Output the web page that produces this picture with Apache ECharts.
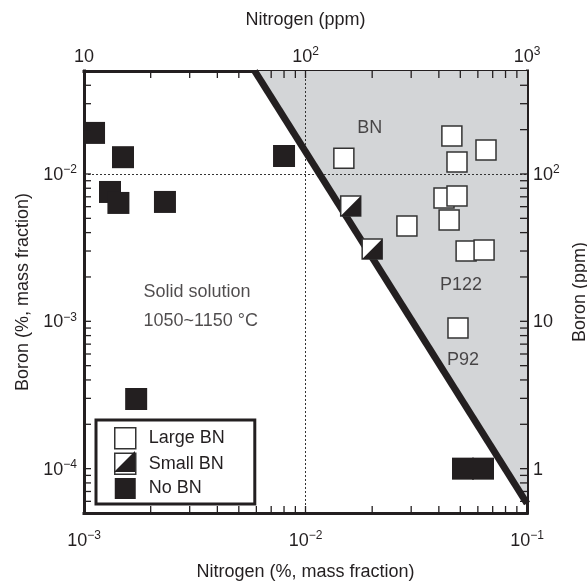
<!DOCTYPE html>
<html><head><meta charset="utf-8">
<script src="https://cdn.jsdelivr.net/npm/echarts@6/dist/echarts.min.js"></script>
<style>html,body{margin:0;padding:0;background:#fff;overflow:hidden}#c{width:587px;height:581px}</style>
</head><body><div id="c"></div>
<script>
// ---- data ----
const noBN_N   = [0.00111, 0.0015, 0.00131, 0.00143, 0.00232, 0.0080, 0.00172, 0.0514, 0.0633];
const noBN_B   = [0.0190, 0.0130, 0.00755, 0.00636, 0.00646, 0.01325, 0.000297, 0.0001, 0.0001];
const largeBN_N = [0.0149, 0.0458, 0.0653, 0.0483, 0.0422, 0.0483, 0.0445, 0.0287, 0.0531, 0.0640, 0.0488];
const largeBN_B = [0.0128, 0.0181, 0.01455, 0.01205, 0.00687, 0.00708, 0.00487, 0.00443, 0.00300, 0.00305, 0.00090];
const smallBN_N = [0.0160, 0.0200];
const smallBN_B = [0.00607, 0.00310];
const boundaryN = [0.0059, 0.1];
const boundaryB = [0.05, 0.000058];
const gridX = [0.01];
const gridY = [0.01, 0.001, 0.0001];
const noteNames = ['BN', 'P122', 'P92', 'Solid solution', '1050~1150 \u00B0C'];
const noteN = [0.0195, 0.0503, 0.0514, 0.00177, 0.00177];
const noteB = [0.0205, 0.00176, 0.000546, 0.00158, 0.0010];
const xRange = [0.001, 0.1];       // Nitrogen, % mass fraction
const yRange = [0.00005, 0.05];    // Boron, % mass fraction
const xRangePpm = [10, 1000];
const yRangePpm = [0.5, 500];
const bottomLabels = [0.001, 0.01, 0.1];
const topLabels = [10, 100, 1000];
const leftLabels = [0.0001, 0.001, 0.01];
const rightLabels = [1, 10, 100];

// ---- helpers ----
const INK = '#231f20';
const FONT = 'Liberation Sans, Arial, Helvetica, sans-serif';
function logTicks(lo, hi) {
  const out = [];
  for (let e = Math.floor(Math.log10(lo)); e <= Math.ceil(Math.log10(hi)); e++) {
    for (let m = 1; m <= 9; m++) {
      const v = +(m * Math.pow(10, e)).toPrecision(6);
      if (v > lo * 1.0001 && v < hi / 1.0001) out.push(v);
    }
  }
  return out;
}
const xTickVals = logTicks(xRange[0], xRange[1]);
const yTickVals = logTicks(yRange[0], yRange[1]);
function nudge(vals, lo, hi) { return vals.map(v => Math.min(Math.max(v, lo * 1.000001), hi / 1.000001)); }
function fmt(v) {
  const e = Math.round(Math.log10(v));
  if (e === 0) return '{b|1}';
  if (e === 1) return '{b|10}';
  return '{b|10}{s|' + (e < 0 ? '\u2212' + (-e) : e) + '}';
}
const rich = {
  b: { fontSize: 18, lineHeight: 20, fontFamily: FONT, color: INK, verticalAlign: 'bottom' },
  s: { fontSize: 12, lineHeight: 12, fontFamily: FONT, color: INK, verticalAlign: 'top' }
};
function axis(pos, range, labels, name, nameGap, margin, isY) {
  const a = {
    type: 'log', logBase: 10, position: pos, min: range[0], max: range[1],
    name: name, nameLocation: 'middle', nameGap: nameGap,
    nameTextStyle: { fontSize: 18, color: INK, fontFamily: FONT },
    axisLine: { show: true, onZero: false, lineStyle: { color: INK, width: 3, cap: 'square' } },
    axisTick: { show: false },
    axisLabel: { show: true, customValues: nudge(labels, range[0], range[1]), formatter: fmt, rich: rich, margin: margin },
    splitLine: { show: false }, minorTick: { show: false }
  };
  if (isY) a.nameRotate = 90;
  return a;
}
function pairs(xs, ys) { return xs.map((x, i) => [x, ys[i]]); }
const TICK = 7;
function noteItem(n, i) {
  const item = { name: n, value: [noteN[i], noteB[i]] };
  if (i >= 3) {
    item.label = { position: 'right', distance: 0, padding: [1, 23, 1, 4] };
    if (i === 4) item.label.backgroundColor = '#fff';
  }
  return item;
}

const chart = echarts.init(document.getElementById('c'), null, { renderer: 'canvas' });
chart.setOption({
  animation: false,
  backgroundColor: '#fff',
  grid: { left: 84, right: 60, top: 71, bottom: 68, outerBoundsMode: 'none', containLabel: false },
  xAxis: [
    axis('bottom', xRange, bottomLabels, 'Nitrogen (%, mass fraction)', 50, 17, false),
    axis('top', xRangePpm, topLabels, 'Nitrogen (ppm)', 42, 5, false)
  ],
  yAxis: [
    axis('left', yRange, leftLabels, 'Boron (%, mass fraction)', 52, 7, true),
    axis('right', yRangePpm, rightLabels, 'Boron (ppm)', 43, 6, true)
  ],
  legend: [
    {
      orient: 'vertical', left: 96, top: 420, itemWidth: 21, itemHeight: 21, itemGap: 3,
      padding: [7, 30, 5, 18], backgroundColor: '#fff', borderColor: INK, borderWidth: 3,
      selectedMode: false, z: 10,
      textStyle: { fontSize: 18, color: INK, fontFamily: FONT, padding: [0, 0, 0, 8] },
      data: [
        { name: 'Large BN', icon: 'rect', itemStyle: { color: '#fff', borderColor: '#333', borderWidth: 1.5, opacity: 1 } },
        { name: 'Small BN', icon: 'rect', itemStyle: { color: '#fff', borderColor: '#333', borderWidth: 1.5, opacity: 1 } },
        { name: 'No BN', icon: 'rect', itemStyle: { color: INK, borderWidth: 0, opacity: 1 } }
      ]
    },
    {
      orient: 'vertical', left: 114, top: 451, itemWidth: 21, itemHeight: 21, padding: 0,
      selectedMode: false, z: 11, formatter: function () { return ''; },
      data: [{ name: 'Small BN fill', icon: 'path://M1,0L1,1L0,1Z', itemStyle: { color: INK, borderWidth: 0, opacity: 1 } }]
    }
  ],
  series: [
    {
      name: 'region', type: 'line', xAxisIndex: 0, yAxisIndex: 0, z: 1, silent: true,
      data: pairs(boundaryN, boundaryB), symbol: 'none',
      lineStyle: { width: 0 }, areaStyle: { color: '#d3d5d7', opacity: 1, origin: 'end' },
      markLine: {
        z: 2, silent: true, symbol: 'none', label: { show: false },
        lineStyle: { type: [2, 2], color: '#333', width: 1 },
        data: gridX.map(v => ({ xAxis: v })).concat(gridY.map(v => ({ yAxis: v })))
      }
    },
    {
      name: 'boundary', type: 'line', xAxisIndex: 0, yAxisIndex: 0, z: 3, silent: true,
      data: pairs(boundaryN, boundaryB), symbol: 'none',
      lineStyle: { width: 7, color: INK }
    },
    {
      name: 'No BN', type: 'scatter', z: 4, symbol: 'rect', symbolSize: 22,
      itemStyle: { color: INK, opacity: 1 }, data: pairs(noBN_N, noBN_B)
    },
    {
      name: 'Large BN', type: 'scatter', z: 4, symbol: 'rect', symbolSize: 20,
      itemStyle: { color: '#fff', borderColor: '#333', borderWidth: 1.5, opacity: 1 }, data: pairs(largeBN_N, largeBN_B)
    },
    {
      name: 'Small BN', type: 'scatter', z: 4, symbol: 'rect', symbolSize: 20,
      itemStyle: { color: '#fff', borderColor: '#333', borderWidth: 1.5, opacity: 1 }, data: pairs(smallBN_N, smallBN_B)
    },
    {
      name: 'Small BN fill', type: 'scatter', z: 4, symbol: 'path://M1,0L1,1L0,1Z', symbolSize: 20,
      itemStyle: { color: INK, opacity: 1 }, data: pairs(smallBN_N, smallBN_B)
    },
    {
      name: 'notes', type: 'scatter', z: 6, silent: true, symbolSize: 1,
      itemStyle: { color: 'rgba(0,0,0,0)' },
      label: { show: true, formatter: '{b}', position: 'inside', fontSize: 18, color: INK, fontFamily: FONT },
      data: noteNames.map(noteItem)
    }
  ]
});

// Log ticks on all four sides, placed through the chart's own axis scales.
try {
  const els = [];
  const seg = (x1, y1, x2, y2) => ({ type: 'line', silent: true, z: 50,
    shape: { x1: x1, y1: y1, x2: x2, y2: y2 }, style: { stroke: INK, lineWidth: 1.3 } });
  const yLo = yRange[0] * 1.0001, yHi = yRange[1] / 1.0001;
  const xLo = xRange[0] * 1.0001, xHi = xRange[1] / 1.0001;
  xTickVals.forEach(v => {
    const b = chart.convertToPixel({ gridIndex: 0 }, [v, yLo]);
    const t = chart.convertToPixel({ gridIndex: 0 }, [v, yHi]);
    els.push(seg(b[0], b[1] + 1, b[0], b[1] - TICK), seg(t[0], t[1] - 1, t[0], t[1] + TICK));
  });
  yTickVals.forEach(v => {
    const l = chart.convertToPixel({ gridIndex: 0 }, [xLo, v]);
    const r = chart.convertToPixel({ gridIndex: 0 }, [xHi, v]);
    els.push(seg(l[0] - 1, l[1], l[0] + TICK, l[1]), seg(r[0] + 1, r[1], r[0] - TICK, r[1]));
  });
  chart.setOption({ graphic: { elements: els } });
} catch (e) { /* ticks are decorative */ }
</script>
</body></html>
